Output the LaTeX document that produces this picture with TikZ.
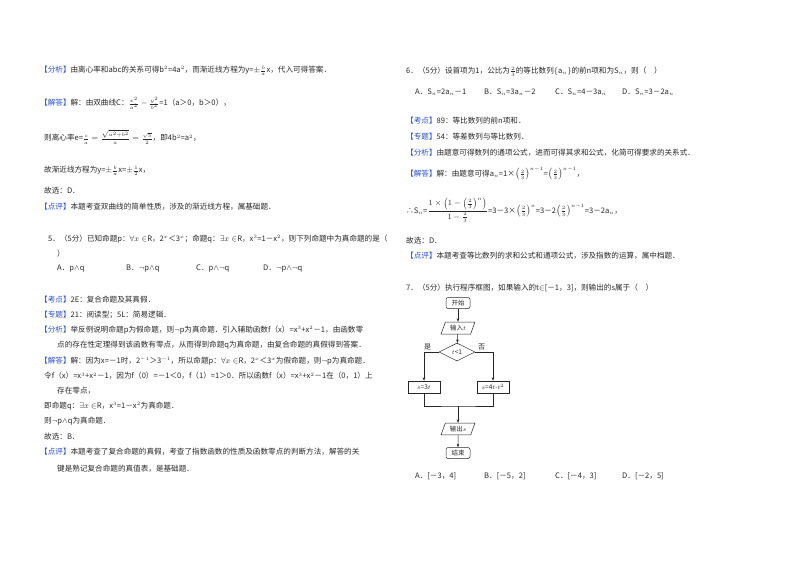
\documentclass[tikz,border=0pt]{standalone}
\usepackage{fontspec}
\setmainfont{Noto Sans CJK SC}
\usetikzlibrary{shapes.geometric,arrows.meta}
\definecolor{lab}{RGB}{40,80,210}
\definecolor{ink}{RGB}{40,40,40}
\newcommand\lab[1]{\textcolor{lab}{【#1】}}
\newcommand\tth{\left(\frac{2}{3}\right)}
\tikzset{
 t/.style={anchor=west,inner sep=0pt,font=\fontsize{7.6pt}{9pt}\selectfont,text=ink},
 fc/.style={draw=ink,line width=0.5pt,inner sep=1.5pt,font=\fontsize{6.5pt}{7pt}\selectfont,text=ink},
 rbox/.style={fc,rounded corners=2pt,minimum width=24pt,minimum height=11pt},
 pbox/.style={fc,trapezium,trapezium left angle=70,trapezium right angle=110,minimum height=11pt,minimum width=34pt},
 dbox/.style={fc,diamond,aspect=2.4,inner sep=0.5pt,minimum width=36pt,minimum height=18pt},
 sbox/.style={fc,minimum width=32pt,minimum height=12pt},
 ar/.style={draw=ink,line width=0.5pt,-{Stealth[length=3.5pt]}},
 ln/.style={draw=ink,line width=0.5pt}
}
\begin{document}
\begin{tikzpicture}[x=1pt,y=-1pt]
\useasboundingbox[fill=white] (0,0) rectangle (800,565);
% left column
\node[t] (a1) at (40,71) {\lab{分析}由离心率和abc的关系可得b$^2$=4a$^2$，而渐近线方程为y=$\pm\frac{b}{a}$x，代入可得答案．};
\node[t] (a2) at (40,103) {\lab{解答}解：由双曲线C：$\frac{x^2}{a^2}-\frac{y^2}{b^2}$=1（a＞0，b＞0），};
\node[t] (a3) at (44,137) {则离心率e=$\frac{c}{a}=\frac{\sqrt{a^2+b^2}}{a}=\frac{\sqrt5}{2}$，即4b$^2$=a$^2$，};
\node[t] (a4) at (44,171) {故渐近线方程为y=$\pm\frac{b}{a}$x=$\pm\frac{1}{2}$x，};
\node[t] (a5) at (44,191) {故选：D．};
\node[t] (a6) at (40,207) {\lab{点评}本题考查双曲线的简单性质，涉及的渐近线方程，属基础题．};
\node[t] (q5) at (48,239) {5．（5分）已知命题p：$\forall x\in$R，2$^x$＜3$^x$；命题q：$\exists x\in$R，x$^3$=1－x$^2$，则下列命题中为真命题的是（};
\node[t] (q5b) at (57,254) {）};
\node[t] (o5a) at (57,269) {A．p$\wedge$q};
\node[t] (o5b) at (126,269) {B．$\neg$p$\wedge$q};
\node[t] (o5c) at (196,269) {C．p$\wedge\neg$q};
\node[t] (o5d) at (263,269) {D．$\neg$p$\wedge\neg$q};
\node[t] (b1) at (40,300) {\lab{考点}2E：复合命题及其真假．};
\node[t] (b2) at (40,315) {\lab{专题}21：阅读型；5L：简易逻辑．};
\node[t] (b3) at (40,330) {\lab{分析}举反例说明命题p为假命题，则$\neg$p为真命题．引入辅助函数f（x）=x$^3$+x$^2$－1，由函数零};
\node[t] (b4) at (57,345) {点的存在性定理得到该函数有零点，从而得到命题q为真命题，由复合命题的真假得到答案．};
\node[t] (b5) at (40,361) {\lab{解答}解：因为x=－1时，2$^{-1}$＞3$^{-1}$，所以命题p：$\forall x\in$R，2$^x$＜3$^x$为假命题，则$\neg$p为真命题．};
\node[t] (b6) at (44,376) {令f（x）=x$^3$+x$^2$－1，因为f（0）=－1＜0，f（1）=1＞0．所以函数f（x）=x$^3$+x$^2$－1在（0，1）上};
\node[t] (b7) at (57,391) {存在零点，};
\node[t] (b8) at (44,406) {即命题q：$\exists x\in$R，x$^3$=1－x$^2$为真命题．};
\node[t] (b9) at (44,421) {则$\neg$p$\wedge$q为真命题．};
\node[t] (b10) at (44,437) {故选：B．};
\node[t] (b11) at (40,452) {\lab{点评}本题考查了复合命题的真假，考查了指数函数的性质及函数零点的判断方法，解答的关};
\node[t] (b12) at (57,469) {键是熟记复合命题的真值表，是基础题．};
% right column
\node[t] (q6) at (406,72) {6．（5分）设首项为1，公比为$\frac{2}{3}$的等比数列$\{$a$_n\}$的前n项和为S$_n$，则（\quad ）};
\node[t] (o6a) at (415,92) {A．S$_n$=2a$_n$－1};
\node[t] (o6b) at (484,92) {B．S$_n$=3a$_n$－2};
\node[t] (o6c) at (555,92) {C．S$_n$=4－3a$_n$};
\node[t] (o6d) at (622,92) {D．S$_n$=3－2a$_n$};
\node[t] (c1) at (406,121) {\lab{考点}89：等比数列的前n项和．};
\node[t] (c2) at (406,137) {\lab{专题}54：等差数列与等比数列．};
\node[t] (c3) at (406,153) {\lab{分析}由题意可得数列的通项公式，进而可得其求和公式，化简可得要求的关系式．};
\node[t] (c4) at (406,174) {\lab{解答}解：由题意可得a$_n$=1×$\tth^{n-1}$=$\tth^{n-1}$，};
\node[t] (c5) at (406,210) {∴S$_n$=$\displaystyle\frac{1\times\left(1-\tth^{n}\right)}{1-\frac{2}{3}}$=3－3×$\tth^n$=3－2$\tth^{n-1}$=3－2a$_n$，};
\node[t] (c6) at (406,241) {故选：D．};
\node[t] (c7) at (406,256) {\lab{点评}本题考查等比数列的求和公式和通项公式，涉及指数的运算，属中档题．};
\node[t] (q7) at (406,288) {7．（5分）执行程序框图，如果输入的t$\in$[－1，3]，则输出的s属于（\quad ）};
% flowchart
\node[rbox] (st) at (458,303) {开始};
\node[pbox] (in) at (458,328) {输入$t$};
\node[dbox] (dc) at (457,352) {$t$<1};
\node[sbox] (s1) at (424,387) {$s$=3$t$};
\node[sbox] (s2) at (493,387) {$s$=4$t$-$t^2$};
\node[pbox] (out) at (458,429) {输出$s$};
\node[rbox] (en) at (458,453) {结束};
\coordinate (m) at (458,406);
\node[t,font=\fontsize{7pt}{8pt}\selectfont] (yes) at (424,347) {是};
\node[t,font=\fontsize{7pt}{8pt}\selectfont] (no) at (478,347) {否};
\path[ar] (st) -- (in);
\path[ar] (in) -- (dc);
\path[ar] (dc.west) -| (s1.north);
\path[ar] (dc.east) -| (s2.north);
\path[ln] (s1.south) |- (m) -| (s2.south);
\path[ar] (m) -- (out);
\path[ar] (out) -- (en);
\node[t] (o7a) at (415,476) {A．[－3，4]};
\node[t] (o7b) at (484,476) {B．[－5，2]};
\node[t] (o7c) at (555,476) {C．[－4，3]};
\node[t] (o7d) at (622,476) {D．[－2，5]};
\end{tikzpicture}
\end{document}
